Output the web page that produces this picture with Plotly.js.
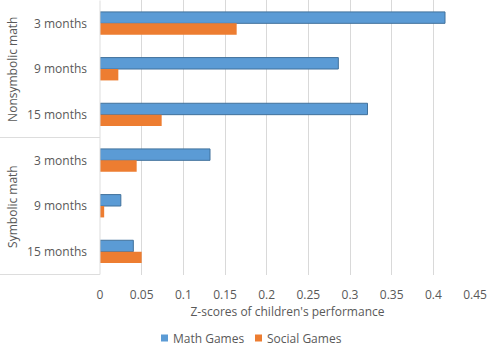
<!DOCTYPE html>
<html>
<head>
<meta charset="utf-8">
<script src="https://cdn.plot.ly/plotly-3.0.1.min.js"></script>
<style>html,body{margin:0;padding:0;background:#fff;}#chart{width:493px;height:354px;}</style>
</head>
<body>
<div id="chart"></div>
<script>
const groups = ["Nonsymbolic math", "Symbolic math"];
const months = ["3 months", "9 months", "15 months"];
const mathGames = [0.414, 0.286, 0.321, 0.132, 0.025, 0.040];
const socialGames = [0.164, 0.022, 0.074, 0.044, 0.005, 0.050];
const xTicks = [0, 0.05, 0.1, 0.15, 0.2, 0.25, 0.3, 0.35, 0.4, 0.45];
const xTickText = ["0", "0.05", "0.1", "0.15", "0.2", "0.25", "0.3", "0.35", "0.4", "0.45"];
const seriesNames = ["Math Games", "Social Games"];
const seriesColors = ["#5B9BD5", "#ED7D31"];

const keys = [], labels = [];
groups.forEach(g => months.forEach(m => { keys.push(g + "|" + m); labels.push(m); }));

const font = "Open Sans, Lato, sans-serif";
const txt = "#595959";
const traces = [
  {type: "bar", orientation: "h", name: seriesNames[0], x: mathGames, y: keys,
   marker: {color: seriesColors[0], line: {color: "#41719C", width: 1}}},
  {type: "bar", orientation: "h", name: seriesNames[1], x: socialGames, y: keys,
   marker: {color: seriesColors[1], line: {width: 0}}}
];

const shapes = [];
const lineColor = "#DDDDDD";
[2.5, 5.5].forEach(v => shapes.push({type: "line", xref: "paper", yref: "y", x0: -0.267, x1: 0, y0: v, y1: v, line: {color: lineColor, width: 1}}));
shapes.push({type: "line", xref: "paper", yref: "y", x0: 0, x1: 0, y0: -0.5, y1: 5.5, line: {color: lineColor, width: 1}});

const annotations = groups.map((g, i) => ({
  text: g, xref: "paper", yref: "y", x: -0.235, y: keys[i * 3 + 1],
  textangle: -90, showarrow: false, xanchor: "center", yanchor: "middle",
  font: {family: font, size: 12, color: txt}
}));

// manual legend (small squares next to the text, like the original)
const legX = [161, 255];
seriesNames.forEach((n, i) => {
  shapes.push({type: "rect", xref: "paper", yref: "paper",
    x0: (legX[i] - 100) / 375, x1: (legX[i] + 7 - 100) / 375,
    y0: (275 - 341.5) / 275, y1: (275 - 334.5) / 275,
    fillcolor: seriesColors[i], line: {width: 0}});
  annotations.push({text: n, xref: "paper", yref: "paper", x: (legX[i] + 10 - 100) / 375, y: (275 - 338) / 275,
    xanchor: "left", yanchor: "middle", showarrow: false, font: {family: font, size: 12, color: txt}});
});

const layout = {
  width: 493, height: 354,
  margin: {l: 100, r: 18, t: 0, b: 79, pad: 0},
  paper_bgcolor: "#ffffff", plot_bgcolor: "#ffffff",
  barmode: "group", bargap: 0.5, bargroupgap: 0,
  font: {family: font, size: 12, color: txt},
  xaxis: {range: [0, 0.45], tickvals: xTicks, ticktext: xTickText, showgrid: true, gridcolor: "#D9D9D9", gridwidth: 1,
          zeroline: false, showline: false, ticks: "", ticklabelstandoff: 11,
          tickfont: {family: font, size: 12, color: txt},
          title: {text: "Z-scores of children's performance", standoff: 4, font: {family: font, size: 12, color: txt}}},
  yaxis: {type: "category", categoryorder: "array", categoryarray: keys, tickvals: keys, ticktext: labels,
          autorange: "reversed", showgrid: false, zeroline: false, showline: false, ticks: "", ticklabelstandoff: 12,
          tickfont: {family: font, size: 12, color: txt}},
  showlegend: false,
  shapes: shapes, annotations: annotations
};

Plotly.newPlot("chart", traces, layout, {displayModeBar: false, staticPlot: true});
</script>
</body>
</html>
